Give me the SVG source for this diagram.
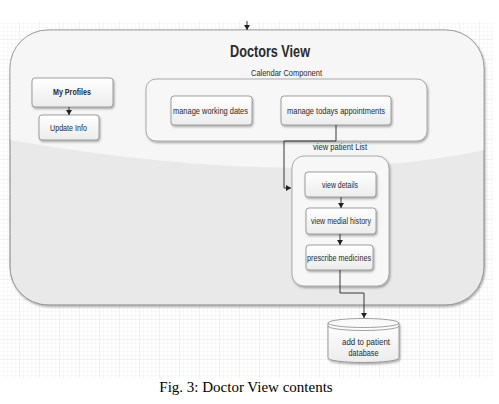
<svg xmlns="http://www.w3.org/2000/svg" width="499" height="404" viewBox="0 0 499 404">
<defs>
<pattern id="grid" width="4" height="4" patternUnits="userSpaceOnUse">
<path d="M4 0V4H0" fill="none" stroke="#ececec" stroke-width="0.6"/>
</pattern>
<pattern id="gridM" width="20" height="20" patternUnits="userSpaceOnUse">
<path d="M20 0V20H0" fill="none" stroke="#dedede" stroke-width="0.6"/>
</pattern>
<linearGradient id="box" x1="0" y1="0" x2="0" y2="1">
<stop offset="0" stop-color="#ffffff"/>
<stop offset="1" stop-color="#ececec"/>
</linearGradient>
<filter id="sh" x="-10%" y="-10%" width="130%" height="140%">
<feDropShadow dx="1" dy="1.5" stdDeviation="1" flood-color="#000" flood-opacity="0.35"/>
</filter>
<clipPath id="bigclip"><rect x="10" y="30" width="474" height="275" rx="38"/></clipPath>
<marker id="arr" markerWidth="6" markerHeight="6" refX="5" refY="3" orient="auto" markerUnits="userSpaceOnUse">
<path d="M0 0L5 3L0 6Z" fill="#222"/>
</marker>
<style>
.t{font-family:"Liberation Sans",Arial,sans-serif;fill:#2a2a2a;text-anchor:middle}
.s{font-size:9px}
.node{fill:url(#box);stroke:#888;stroke-width:0.8;filter:url(#sh)}
.c{fill:none;stroke:#222;stroke-width:0.9}
</style>
</defs>
<rect width="499" height="404" fill="#fff"/>
<rect x="0" y="22" width="493" height="356" fill="url(#grid)"/>
<rect x="0" y="22" width="493" height="356" fill="url(#gridM)"/>

<g id="doctors-view">
<rect x="10" y="30" width="474" height="275" rx="38" fill="#e9e9e9" stroke="#999" stroke-width="0.8" filter="url(#sh)"/>
<path d="M10 30H484V150Q300 190 10 140Z" fill="#f6f6f6" clip-path="url(#bigclip)"/>
<rect x="10" y="30" width="474" height="275" rx="38" fill="none" stroke="#999" stroke-width="0.8"/>
<text class="t" x="270" y="57" font-size="17" font-weight="bold" fill="#222" textLength="80" lengthAdjust="spacingAndGlyphs">Doctors View</text>
</g>

<g id="calendar">
<text class="t s" x="286.5" y="76" textLength="71" lengthAdjust="spacingAndGlyphs">Calendar Component</text>
<rect x="146" y="79" width="281" height="62" rx="10" fill="#f7f7f7" stroke="#999" stroke-width="0.8" filter="url(#sh)"/>
</g>

<g id="my-profiles">
<rect class="node" x="32" y="78" width="81" height="29" rx="3"/>
<text class="t s" x="72" y="95" font-weight="bold" textLength="38" lengthAdjust="spacingAndGlyphs">My Profiles</text>
</g>
<g id="update-info">
<rect class="node" x="39" y="115" width="60" height="25" rx="3"/>
<text class="t s" x="68.5" y="130.5" textLength="37" lengthAdjust="spacingAndGlyphs">Update Info</text>
</g>
<g id="manage-working-dates">
<rect class="node" x="171" y="96" width="81" height="29" rx="3"/>
<text class="t s" x="210.5" y="113.5" textLength="75" lengthAdjust="spacingAndGlyphs">manage working dates</text>
</g>
<g id="manage-todays-appointments">
<rect class="node" x="281" y="96" width="110" height="29" rx="3"/>
<text class="t s" x="336" y="113.5" textLength="98" lengthAdjust="spacingAndGlyphs">manage todays appointments</text>
</g>

<g id="view-patient-list">
<text class="t s" x="340" y="150" textLength="54" lengthAdjust="spacingAndGlyphs">view patient List</text>
<rect x="292" y="156" width="97" height="130" rx="12" fill="#f7f7f7" stroke="#999" stroke-width="0.8" filter="url(#sh)"/>
</g>
<g id="view-details">
<rect class="node" x="305" y="172" width="71" height="25" rx="3"/>
<text class="t s" x="340" y="187.5" textLength="36" lengthAdjust="spacingAndGlyphs">view details</text>
</g>
<g id="view-medial-history">
<rect class="node" x="306" y="208" width="70" height="26" rx="3"/>
<text class="t s" x="341" y="224" textLength="60" lengthAdjust="spacingAndGlyphs">view medial history</text>
</g>
<g id="prescribe-medicines">
<rect class="node" x="306" y="245" width="67" height="25" rx="3"/>
<text class="t s" x="339" y="260.5" textLength="64" lengthAdjust="spacingAndGlyphs">prescribe medicines</text>
</g>

<g id="patient-database">
<path d="M328 323V358A35.5 4.5 0 0 0 399 358V323" fill="url(#box)" stroke="#888" stroke-width="0.8" filter="url(#sh)"/>
<ellipse cx="363.5" cy="323" rx="35.5" ry="4.5" fill="#fafafa" stroke="#888" stroke-width="0.8"/>
<path d="M328 326A35.5 4.5 0 0 0 399 326" fill="none" stroke="#888" stroke-width="0.8"/>
<text class="t" x="366" y="345" font-size="8.5" textLength="48" lengthAdjust="spacingAndGlyphs">add to patient</text>
<text class="t" x="363.5" y="355.5" font-size="8.5" textLength="30" lengthAdjust="spacingAndGlyphs">database</text>
</g>

<g id="connectors">
<path class="c" d="M247 21V30" marker-end="url(#arr)"/>
<path class="c" d="M69 107V115" marker-end="url(#arr)"/>
<path class="c" d="M336 125V141H284V188H291" marker-end="url(#arr)"/>
<path class="c" d="M341 197V208" marker-end="url(#arr)"/>
<path class="c" d="M340 234V245" marker-end="url(#arr)"/>
<path class="c" d="M340 270V293H364V318" marker-end="url(#arr)"/>
</g>

<text x="246" y="392" font-family="'Liberation Serif','Times New Roman',serif" font-size="15" text-anchor="middle" fill="#000">Fig. 3: Doctor View contents</text>
</svg>
